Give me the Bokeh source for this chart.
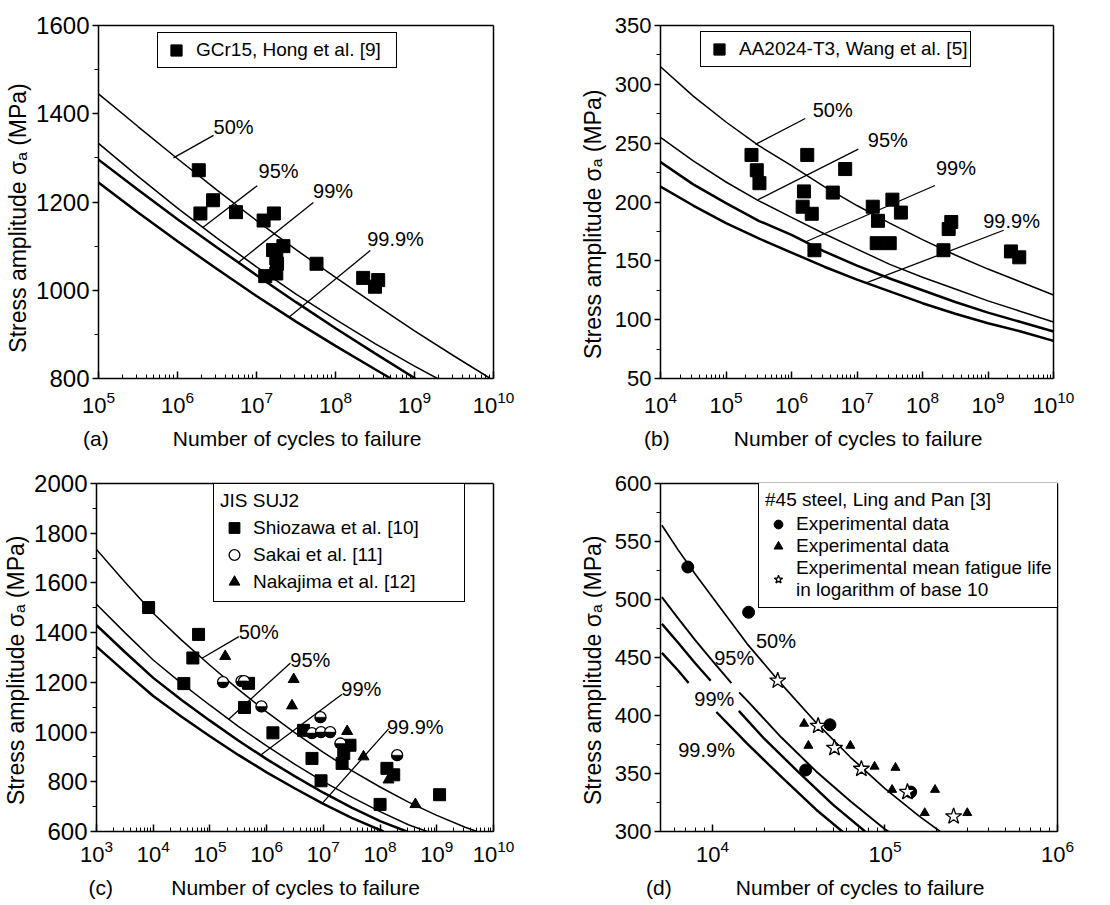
import numpy as np
from bokeh.plotting import figure
from bokeh.layouts import column, row
from bokeh.models import (Range1d, FixedTicker, SingleIntervalTicker, LogTickFormatter,
                          Label, Legend, LegendItem, LinearAxis)
from bokeh.embed import file_html
from bokeh.resources import INLINE

# ---------------- data ----------------
# (a) GCr15, Hong et al. [9]  -- P-S-N curves (log10 N, MPa)
a_50_logN = [5, 5.5, 6, 6.5, 7, 7.5, 8, 8.5, 9, 9.5, 9.96]
a_50_S = [1445, 1371, 1298, 1227, 1158, 1092, 1029, 968, 908, 851, 800]
a_95_logN = [5, 5.5, 6, 6.5, 7, 7.5, 8, 8.5, 9, 9.29]
a_95_S = [1333, 1258, 1186, 1118, 1053, 991, 934, 879, 828, 800]
a_99_logN = [5, 5.5, 6, 6.5, 7, 7.5, 8, 8.5, 9.01]
a_99_S = [1296, 1228, 1161, 1097, 1034, 973, 914, 857, 800]
a_999_logN = [5, 5.5, 6, 6.5, 7, 7.5, 8, 8.5, 8.70]
a_999_S = [1244, 1176, 1111, 1048, 987, 929, 874, 821, 800]
a_N = [1.86e6, 1.95e6, 2.82e6, 5.5e6, 1.23e7, 1.66e7, 2.19e7, 1.62e7, 1.78e7, 1.82e7,
       1.78e7, 1.29e7, 5.75e7, 2.24e8, 3.47e8, 3.16e8]
a_S = [1272, 1174, 1204, 1177, 1158, 1174, 1100, 1091, 1072, 1060, 1038, 1032, 1060, 1028, 1023, 1008]

# (b) AA2024-T3, Wang et al. [5]
b_logN = [4, 4.5, 5, 5.5, 6, 6.5, 7, 7.5, 8, 8.5, 9, 9.5, 10]
b_50_S = [315, 290, 268, 248, 231, 213, 197, 182, 168, 155, 143, 132, 121]
b_95_S = [255, 235, 217, 201, 187, 173, 160, 147, 136, 126, 116, 107, 98]
b_99_S = [234, 215, 199, 184, 172, 158, 146, 135, 125, 115, 106, 98, 90]
b_999_S = [213, 197, 182, 169, 157, 145, 134, 124, 114, 105, 97, 90, 82]
b_N = [2.45e5, 2.95e5, 3.24e5, 1.74e6, 1.55e6, 1.48e6, 2.04e6, 2.24e6, 4.27e6, 6.6e6,
       1.74e7, 2.09e7, 2.0e7, 3.16e7, 3.47e7, 4.68e7, 2.09e8, 2.51e8, 2.75e8, 2.24e9, 3.0e9]
b_S = [240, 227, 216, 240, 209, 196, 190, 159, 208, 228, 196, 184, 165, 165, 202, 191,
       159, 177, 183, 158, 153]

# (c) JIS SUJ2
c_50_logN = [3, 3.5, 4, 4.5, 5, 5.5, 6, 6.5, 7, 7.5, 8, 8.5, 9, 9.5, 9.71]
c_50_S = [1735, 1604, 1478, 1370, 1269, 1172, 1081, 997, 918, 845, 779, 718, 665, 617, 600]
c_95_logN = [3, 3.5, 4, 4.5, 5, 5.5, 6, 6.5, 7, 7.5, 8, 8.5, 8.83]
c_95_S = [1514, 1400, 1290, 1196, 1108, 1023, 944, 870, 801, 738, 680, 627, 600]
c_99_logN = [3, 3.5, 4, 4.5, 5, 5.5, 6, 6.5, 7, 7.5, 8, 8.47]
c_99_S = [1430, 1322, 1218, 1129, 1046, 966, 891, 822, 756, 696, 642, 600]
c_999_logN = [3, 3.5, 4, 4.5, 5, 5.5, 6, 6.5, 7, 7.5, 8.06]
c_999_S = [1344, 1243, 1145, 1062, 983, 908, 838, 773, 711, 655, 600]
c_shio_N = [8.3e3, 6.3e4, 5.0e4, 3.47e4, 4.8e5, 4.07e5, 1.29e6, 4.47e6, 6.3e6, 9.1e6,
            2.14e7, 2.29e7, 2.95e7, 1.0e8, 1.32e8, 1.74e8, 1.12e9]
c_shio_S = [1501, 1393, 1298, 1195, 1196, 1099, 997, 1007, 894, 804, 874, 914, 947, 709, 854, 828, 748]
c_sakai_N = [1.7e5, 3.6e5, 4.0e5, 8.1e5, 6.3e6, 8.9e6, 9.1e6, 1.32e7, 2.0e7, 2.0e8]
c_sakai_S = [1201, 1205, 1205, 1103, 996, 1060, 1000, 1000, 954, 907]
c_naka_N = [1.86e5, 3.0e6, 2.8e6, 2.63e7, 5.1e7, 1.41e8, 4.2e8]
c_naka_S = [1305, 1212, 1106, 1003, 901, 808, 709]

# (d) #45 steel, Ling and Pan [3]
d_50_logN = [3.707, 3.8, 3.9, 4.0, 4.2, 4.4, 4.6, 4.8, 5.0, 5.2, 5.32]
d_50_S = [564, 543, 522, 502, 462, 427, 394, 364, 337, 313, 300]
d_95a_logN = [3.707, 3.8, 3.9, 4.0, 4.11]
d_95a_S = [502, 484, 465, 447, 428]
d_95b_logN = [4.155, 4.2, 4.4, 4.6, 4.8, 5.0, 5.02]
d_95b_S = [420, 413, 381, 352, 326, 302, 300]
d_99a_logN = [3.707, 3.8, 3.9, 3.99]
d_99a_S = [479, 463, 445, 430]
d_99b_logN = [4.153, 4.3, 4.5, 4.7, 4.885]
d_99b_S = [404, 380, 351, 323, 300]
d_999a_logN = [3.707, 3.8, 3.862]
d_999a_S = [454, 439, 428]
d_999b_logN = [4.023, 4.2, 4.4, 4.6, 4.753]
d_999b_S = [403, 376, 347, 319, 300]
d_circ_N = [7.2e3, 1.62e4, 4.8e4, 3.47e4, 1.41e5]
d_circ_S = [528, 489, 392, 353, 334]
d_tri_N = [3.4e4, 3.6e4, 6.3e4, 8.7e4, 1.15e5, 1.1e5, 1.95e5, 1.7e5, 3.0e5]
d_tri_S = [393, 374, 374, 356, 355, 336, 336, 316, 316]
d_star_N = [2.39e4, 4.1e4, 5.1e4, 7.3e4, 1.35e5, 2.5e5]
d_star_S = [430, 391, 372, 354, 334, 313]

pct_labels = ["50%", "95%", "99%", "99.9%"]
X_TITLE = "Number of cycles to failure"
Y_TITLE = "Stress amplitude σₐ (MPa)"

# ---------------- styling helpers ----------------
FONT = "Liberation Sans"
LEG_FS = "19px"
PCT_FS = "20px"
NB = "\u00a0"


def N(logs):
    return [10.0 ** v for v in logs]


def make_panel(xe0, xe1, xr, yr, ystep, width, height, bl, br, bt, bb,
               ytick_fs, x_std, xl_std, yl_std, letter, gap_n, trail_n, y_trail):
    p = figure(width=width, height=height, x_axis_type="log",
               x_range=Range1d(*xr), y_range=Range1d(*yr),
               output_backend="svg", toolbar_location=None,
               min_border_left=bl, min_border_right=br,
               min_border_top=bt, min_border_bottom=bb)
    p.xgrid.visible = False
    p.ygrid.visible = False
    p.outline_line_color = None
    p.border_fill_color = "white"
    p.background_fill_color = "white"
    p.xaxis.ticker = FixedTicker(
        ticks=[10.0 ** k for k in range(xe0, xe1 + 1)],
        minor_ticks=[m * 10.0 ** k for k in range(xe0 - 1, xe1) for m in range(2, 10)])
    p.xaxis.formatter = LogTickFormatter()
    p.yaxis.ticker = SingleIntervalTicker(interval=ystep, num_minor_ticks=2)
    # panel letter sits on the same baseline as the x title
    p.xaxis.axis_label = letter + NB * gap_n + X_TITLE + NB * trail_n
    p.yaxis.axis_label = Y_TITLE + NB * y_trail
    for ax in (p.xaxis[0], p.yaxis[0]):
        ax.axis_line_color = "black"
        ax.axis_line_width = 1.5
        ax.major_tick_line_color = "black"
        ax.minor_tick_line_color = "black"
        ax.major_tick_line_width = 1.5
        ax.minor_tick_line_width = 1
        ax.major_label_text_font = FONT
        ax.major_label_text_color = "black"
        ax.axis_label_text_font = FONT
        ax.axis_label_text_font_style = "normal"
        ax.axis_label_text_color = "black"
    p.xaxis.axis_label_text_font_size = "21px"
    p.yaxis.axis_label_text_font_size = "23px"
    p.xaxis.major_label_text_font_size = "22px"
    p.yaxis.major_label_text_font_size = ytick_fs
    p.xaxis.major_tick_in = 7
    p.xaxis.major_tick_out = 0
    p.xaxis.minor_tick_in = 4
    p.xaxis.minor_tick_out = 0
    p.xaxis.major_label_standoff = x_std
    p.xaxis.axis_label_standoff = xl_std
    p.yaxis.major_tick_in = 0
    p.yaxis.major_tick_out = 6
    p.yaxis.minor_tick_in = 0
    p.yaxis.minor_tick_out = 4
    p.yaxis.major_label_standoff = 3
    p.yaxis.axis_label_standoff = yl_std
    # plain frame lines on top and right
    for side in ("above", "right"):
        ax = LinearAxis(ticker=FixedTicker(ticks=[]), axis_line_color="black",
                        axis_line_width=1.5, major_tick_line_color=None,
                        minor_tick_line_color=None)
        p.add_layout(ax, side)
    return p


def curve(p, logs, S, lw):
    p.line(N(logs), S, line_color="black", line_width=lw)


def pointer(p, x0, y0, x1, y1):
    p.segment(x0=[x0], y0=[y0], x1=[x1], y1=[y1], line_color="black", line_width=1.3)


def pct(p, x, y, text):
    p.add_layout(Label(x=x, y=y, text=text, text_font=FONT, text_font_size=PCT_FS,
                       text_align="center", text_baseline="middle", text_color="black"))


def style_legend(leg, gw, gh, pad, lw=20):
    leg.border_line_color = "black"
    leg.border_line_width = 1.3
    leg.border_line_alpha = 1.0
    leg.background_fill_color = "white"
    leg.background_fill_alpha = 1.0
    leg.label_text_font = FONT
    leg.label_text_font_size = LEG_FS
    leg.label_text_color = "black"
    leg.title_text_font = FONT
    leg.title_text_font_size = LEG_FS
    leg.title_text_font_style = "normal"
    leg.title_text_color = "black"
    leg.margin = 0
    leg.glyph_width = gw
    leg.glyph_height = gh
    leg.label_height = gh
    leg.label_width = lw
    leg.label_standoff = 5
    leg.spacing = 0
    leg.padding = pad


LW_THIN = 1.5
LW_THICK = 2.5

# ---------------- panel (a) ----------------
pa = make_panel(5, 10, (1e5, 1e10), (800, 1600), 200, 555, 453, 98, 62, 25, 75,
                "24px", 12, 11, 2, "(a)", 11, 15, 5)
curve(pa, a_50_logN, a_50_S, LW_THIN)
curve(pa, a_95_logN, a_95_S, LW_THIN)
curve(pa, a_99_logN, a_99_S, LW_THICK)
curve(pa, a_999_logN, a_999_S, LW_THICK)
ra = pa.scatter(a_N, a_S, marker="square", size=13, fill_color="black", line_color="black")
for txt, (tx, ty), (x0, y0, x1, y1) in zip(
        pct_labels,
        [(10 ** 6.71, 1369), (10 ** 7.28, 1271), (10 ** 7.97, 1226), (10 ** 8.76, 1117)],
        [(10 ** 6.456, 1351, 10 ** 5.949, 1300), (10 ** 7.01, 1237, 10 ** 6.32, 1142),
         (10 ** 7.72, 1199, 10 ** 6.77, 1063), (10 ** 8.44, 1090, 10 ** 7.41, 939)]):
    pct(pa, tx, ty, txt)
    pointer(pa, x0, y0, x1, y1)
lega = Legend(items=[LegendItem(label="GCr15, Hong et al. [9]", renderers=[ra])],
              location=(59, 310))
style_legend(lega, 30, 28, 3, 197)
pa.add_layout(lega)

# ---------------- panel (b) ----------------
pb = make_panel(4, 10, (1e4, 1e10), (50, 350), 50, 553, 453, 105, 55, 25, 75,
                "22px", 12, 11, 6, "(b)", 11, 15, 7)
curve(pb, b_logN, b_50_S, LW_THIN)
curve(pb, b_logN, b_95_S, LW_THIN)
curve(pb, b_logN, b_99_S, LW_THICK)
curve(pb, b_logN, b_999_S, LW_THICK)
rb = pb.scatter(b_N, b_S, marker="square", size=13, fill_color="black", line_color="black")
for txt, (tx, ty), (x0, y0, x1, y1) in zip(
        pct_labels,
        [(10 ** 6.63, 278), (10 ** 7.47, 253), (10 ** 8.51, 229), (10 ** 9.36, 184)],
        [(10 ** 6.21, 271, 10 ** 5.45, 249), (10 ** 7.02, 245, 10 ** 5.49, 202),
         (10 ** 8.19, 214, 10 ** 6.21, 166), (10 ** 9.24, 176, 10 ** 7.13, 131)]):
    pct(pb, tx, ty, txt)
    pointer(pb, x0, y0, x1, y1)
legb = Legend(items=[LegendItem(label="AA2024-T3, Wang et al. [5]", renderers=[rb])],
              location=(40, 311))
style_legend(legb, 30, 28, 3)
pb.add_layout(legb)

# ---------------- panel (c) ----------------
pc = make_panel(3, 10, (1e3, 1e10), (600, 2000), 200, 555, 450, 96, 62, 29, 70,
                "24px", 8, 11, 2, "(c)", 10, 14, 4)
curve(pc, c_50_logN, c_50_S, LW_THIN)
curve(pc, c_95_logN, c_95_S, LW_THIN)
curve(pc, c_99_logN, c_99_S, LW_THICK)
curve(pc, c_999_logN, c_999_S, LW_THICK)
rc1 = pc.scatter(c_shio_N, c_shio_S, marker="square", size=12, fill_color="black", line_color="black")
rc2 = pc.scatter(c_sakai_N, c_sakai_S, marker="circle", size=11, fill_color="white",
                 line_color="black", line_width=1.3)
pc.wedge(c_sakai_N, c_sakai_S, radius=5.5, radius_units="screen", start_angle=np.pi,
         end_angle=2 * np.pi, fill_color="black", line_color="black", line_width=0.5)
rc3 = pc.scatter(c_naka_N, c_naka_S, marker="triangle", size=11, fill_color="black", line_color="black")
for txt, (tx, ty), (x0, y0, x1, y1) in zip(
        pct_labels,
        [(10 ** 5.86, 1404), (10 ** 6.77, 1291), (10 ** 7.67, 1172), (10 ** 8.62, 1020)],
        [(10 ** 5.51, 1384, 10 ** 4.86, 1297), (10 ** 6.42, 1278, 10 ** 5.33, 1052),
         (10 ** 7.33, 1152, 10 ** 5.89, 907), (10 ** 8.15, 1013, 10 ** 6.98, 713)]):
    pct(pc, tx, ty, txt)
    pointer(pc, x0, y0, x1, y1)
legc = Legend(items=[LegendItem(label="Shiozawa et al. [10]", renderers=[rc1]),
                     LegendItem(label="Sakai et al. [11]", renderers=[rc2]),
                     LegendItem(label="Nakajima et al. [12]", renderers=[rc3])],
              location=(117, 229), title="JIS SUJ2")
style_legend(legc, 28, 27, 6, 205)
legc.title_standoff = 2
pc.add_layout(legc)

# ---------------- panel (d) ----------------
pd_ = make_panel(4, 6, (5e3, 1e6), (300, 600), 50, 553, 450, 105, 51, 30, 72,
                 "22px", 8, 11, 6, "(d)", 11, 15, 4)
curve(pd_, d_50_logN, d_50_S, 1.7)
curve(pd_, d_95a_logN, d_95a_S, 1.9)
curve(pd_, d_95b_logN, d_95b_S, 1.9)
curve(pd_, d_99a_logN, d_99a_S, 2.4)
curve(pd_, d_99b_logN, d_99b_S, 2.4)
curve(pd_, d_999a_logN, d_999a_S, 2.4)
curve(pd_, d_999b_logN, d_999b_S, 2.4)
rd1 = pd_.scatter(d_circ_N, d_circ_S, marker="circle", size=12, fill_color="black", line_color="black")
rd2 = pd_.scatter(d_tri_N, d_tri_S, marker="triangle", size=9, fill_color="black", line_color="black")
rd3 = pd_.scatter(d_star_N, d_star_S, marker="star", size=17, fill_color="white",
                  line_color="black", line_width=1.3)
for txt, (tx, ty) in zip(pct_labels, [(10 ** 4.368, 464), (10 ** 4.126, 450),
                                      (10 ** 4.011, 414), (10 ** 3.966, 370)]):
    pct(pd_, tx, ty, txt)
legd = Legend(items=[LegendItem(label="Experimental data", renderers=[rd1]),
                     LegendItem(label="Experimental data", renderers=[rd2]),
                     LegendItem(label="Experimental mean fatigue life\nin logarithm of base 10",
                                renderers=[rd3])],
              location=(98, 223), title="#45 steel, Ling and Pan [3]")
style_legend(legd, 26, 22, 6)
legd.title_standoff = 2
pd_.add_layout(legd)

layout = column(row(pa, pb), row(pc, pd_))
open("out.html", "w").write(file_html(layout, INLINE))
